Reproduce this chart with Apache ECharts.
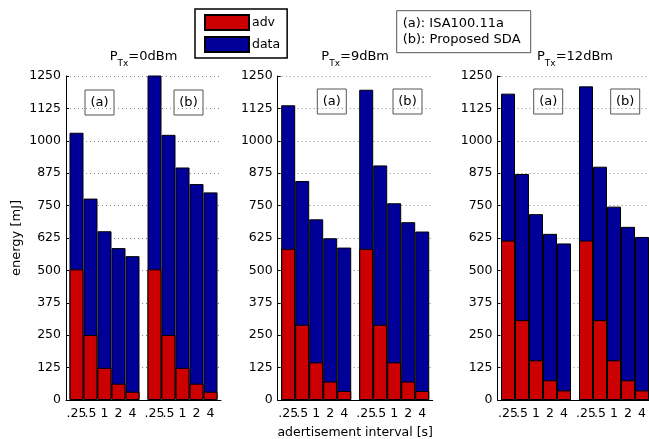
<!DOCTYPE html>
<html>
<head>
<meta charset="utf-8">
<script src="https://cdn.jsdelivr.net/npm/echarts@6/dist/echarts.min.js"></script>
<style>
html, body { margin: 0; padding: 0; background: #fff; }
#main { width: 649px; height: 439px; }
</style>
</head>
<body>
<div id="main"></div>
<script>
// advertisement intervals [s], same for (a) and (b)
var intervals = ['.25', '.5', '1', '2', '4'];
var powers = ['0dBm', '9dBm', '12dBm'];

// bars: first 5 = (a) ISA100.11a, last 5 = (b) Proposed SDA
var adv0 = [504, 251, 124, 63, 32, 504, 251, 124, 63, 32];
var data0 = [527, 526, 527, 523, 523, 776, 772, 773, 770, 769];
var adv9 = [583, 290, 145, 71, 35, 583, 290, 145, 71, 35];
var data9 = [554, 555, 552, 553, 553, 614, 615, 614, 615, 615];
var adv12 = [615, 308, 153, 76, 37, 615, 308, 153, 76, 37];
var data12 = [567, 564, 564, 565, 567, 595, 592, 593, 592, 592];

var yMax = 1250, yStep = 125;

var advList = [adv0, adv9, adv12];
var dataList = [data0, data9, data12];

var FONT = 'DejaVu Sans';
var RED = '#cc0000', BLUE = '#000099';

// layout
var panelLeft = [66, 277.7, 497.5];
var gridTop = 76, gridH = 324, gridW = 155;
var GAP = 8 / 14; // gap between group (a) and (b), in bar widths
var xMin = 0.25, xMax = 11.32;
var barW = gridW / (xMax - xMin);

function xPos(i) {
  return i < 5 ? i + 1 : i + 1 + GAP;
}
var positions = [];
for (var i = 0; i < 10; i++) positions.push(xPos(i));
// empty labels at both ends, so the min/max label check never hides a real one
var labelValues = [xMin].concat(positions, [xMax]);

function tickName(v) {
  for (var i = 0; i < positions.length; i++) {
    if (Math.abs(positions[i] - v) < 1e-6) return intervals[i % 5];
  }
  return '';
}

var grids = [], xAxes = [], yAxes = [], series = [], graphics = [];

for (var p = 0; p < 3; p++) {
  grids.push({ left: panelLeft[p], top: gridTop, width: gridW, height: gridH, containLabel: false, outerBoundsMode: 'none' });
  xAxes.push({
    gridIndex: p,
    type: 'value',
    min: xMin,
    max: xMax,
    axisLine: { show: true, onZero: false, lineStyle: { color: '#000', width: 1 } },
    axisTick: { show: false },
    splitLine: { show: false },
    axisLabel: {
      customValues: labelValues,
      formatter: tickName,
      showMinLabel: false,
      showMaxLabel: false,
      hideOverlap: false,
      color: '#000',
      fontSize: 12.5,
      fontFamily: FONT,
      margin: 7
    },
    name: p == 1 ? 'adertisement interval [s]' : '',
    nameLocation: 'middle',
    nameGap: 26,
    nameTextStyle: { color: '#000', fontSize: 12.5, fontFamily: FONT }
  });
  yAxes.push({
    gridIndex: p,
    type: 'value',
    min: 0,
    max: yMax,
    interval: yStep,
    axisLine: { show: true, lineStyle: { color: '#000', width: 1 } },
    axisTick: { show: true, inside: true, length: 3, lineStyle: { color: '#000' } },
    axisLabel: {
      color: '#000', fontSize: 12.5, fontFamily: FONT, margin: 5,
      formatter: function (v) { return String(v); }
    },
    splitLine: { show: true, lineStyle: { color: '#888', type: [1, 3], width: 1 } },
    name: p == 0 ? 'energy [mJ]' : '',
    nameLocation: 'middle',
    nameRotate: 90,
    nameGap: 43,
    nameTextStyle: { color: '#000', fontSize: 13, fontFamily: FONT }
  });
  // blue bar = whole energy (adv + data), red adv part drawn over its bottom
  series.push({
    name: 'data',
    type: 'bar',
    xAxisIndex: p,
    yAxisIndex: p,
    barWidth: barW,
    clip: true,
    z: 2,
    itemStyle: { color: BLUE, borderColor: '#000', borderWidth: 1 },
    emphasis: { disabled: true },
    data: dataList[p].map(function (v, i) { return [xPos(i), v + advList[p][i]]; })
  });
  series.push({
    name: 'adv',
    type: 'bar',
    xAxisIndex: p,
    yAxisIndex: p,
    barWidth: barW,
    barGap: '-100%',
    clip: true,
    z: 3,
    itemStyle: { color: RED, borderColor: '#000', borderWidth: 1 },
    emphasis: { disabled: true },
    data: advList[p].map(function (v, i) { return [xPos(i), v]; })
  });

  // panel title P_Tx=..
  graphics.push({
    type: 'text',
    x: panelLeft[p] + gridW / 2,
    y: 57,
    z: 10,
    style: {
      text: '{m|P}{s|Tx}{m|=' + powers[p] + '}',
      align: 'center',
      verticalAlign: 'middle',
      rich: {
        m: { fontSize: 13, fontFamily: FONT, fill: '#000', lineHeight: 14, verticalAlign: 'top' },
        s: { fontSize: 9, fontFamily: FONT, fill: '#000', lineHeight: 12, padding: [14, 0, 0, 0] }
      }
    }
  });
}

// (a)/(b) labels inside the panels
var boxA = [85, 317.3, 533.7];
var boxB = [174, 393, 610.7];
var boxTop = [90, 89, 89];
function labelBox(x, y, txt) {
  graphics.push({
    type: 'group',
    x: x,
    y: y,
    z: 10,
    children: [
      { type: 'rect', shape: { x: 0, y: 0, width: 29, height: 25 },
        style: { fill: '#fff', stroke: '#555', lineWidth: 1 } },
      { type: 'text', x: 14.5, y: 12.5,
        style: { text: txt, fill: '#000', fontSize: 13, fontFamily: FONT, align: 'center', verticalAlign: 'middle' } }
    ]
  });
}
for (var p = 0; p < 3; p++) {
  labelBox(boxA[p], boxTop[p], '(a)');
  labelBox(boxB[p], boxTop[p], '(b)');
}

// note box (a)/(b) explanation
graphics.push({
  type: 'group',
  x: 396.7,
  y: 10.7,
  z: 10,
  children: [
    { type: 'rect', shape: { x: 0, y: 0, width: 134, height: 42 },
      style: { fill: '#fff', stroke: '#555', lineWidth: 1 } },
    { type: 'text', x: 6, y: 12.5,
      style: { text: '(a): ISA100.11a', fill: '#000', fontSize: 13, fontFamily: FONT, verticalAlign: 'middle' } },
    { type: 'text', x: 6, y: 29,
      style: { text: '(b): Proposed SDA', fill: '#000', fontSize: 13, fontFamily: FONT, verticalAlign: 'middle' } }
  ]
});

var chart = echarts.init(document.getElementById('main'), null, { renderer: 'canvas' });
var option = {
  animation: false,
  backgroundColor: '#fff',
  legend: {
    data: ['adv', 'data'],
    orient: 'vertical',
    left: 195,
    top: 9,
    itemWidth: 44,
    itemHeight: 15,
    itemGap: 5,
    icon: 'rect',
    padding: [5, 7, 5, 9],
    borderColor: '#000',
    borderWidth: 1.5,
    backgroundColor: '#fff',
    textStyle: { color: '#000', fontSize: 12.5, fontFamily: FONT, padding: [0, 0, 0, -2] },
    selectedMode: false
  },
  grid: grids,
  xAxis: xAxes,
  yAxis: yAxes,
  series: series,
  graphic: graphics
};
chart.setOption(option);
</script>
</body>
</html>
